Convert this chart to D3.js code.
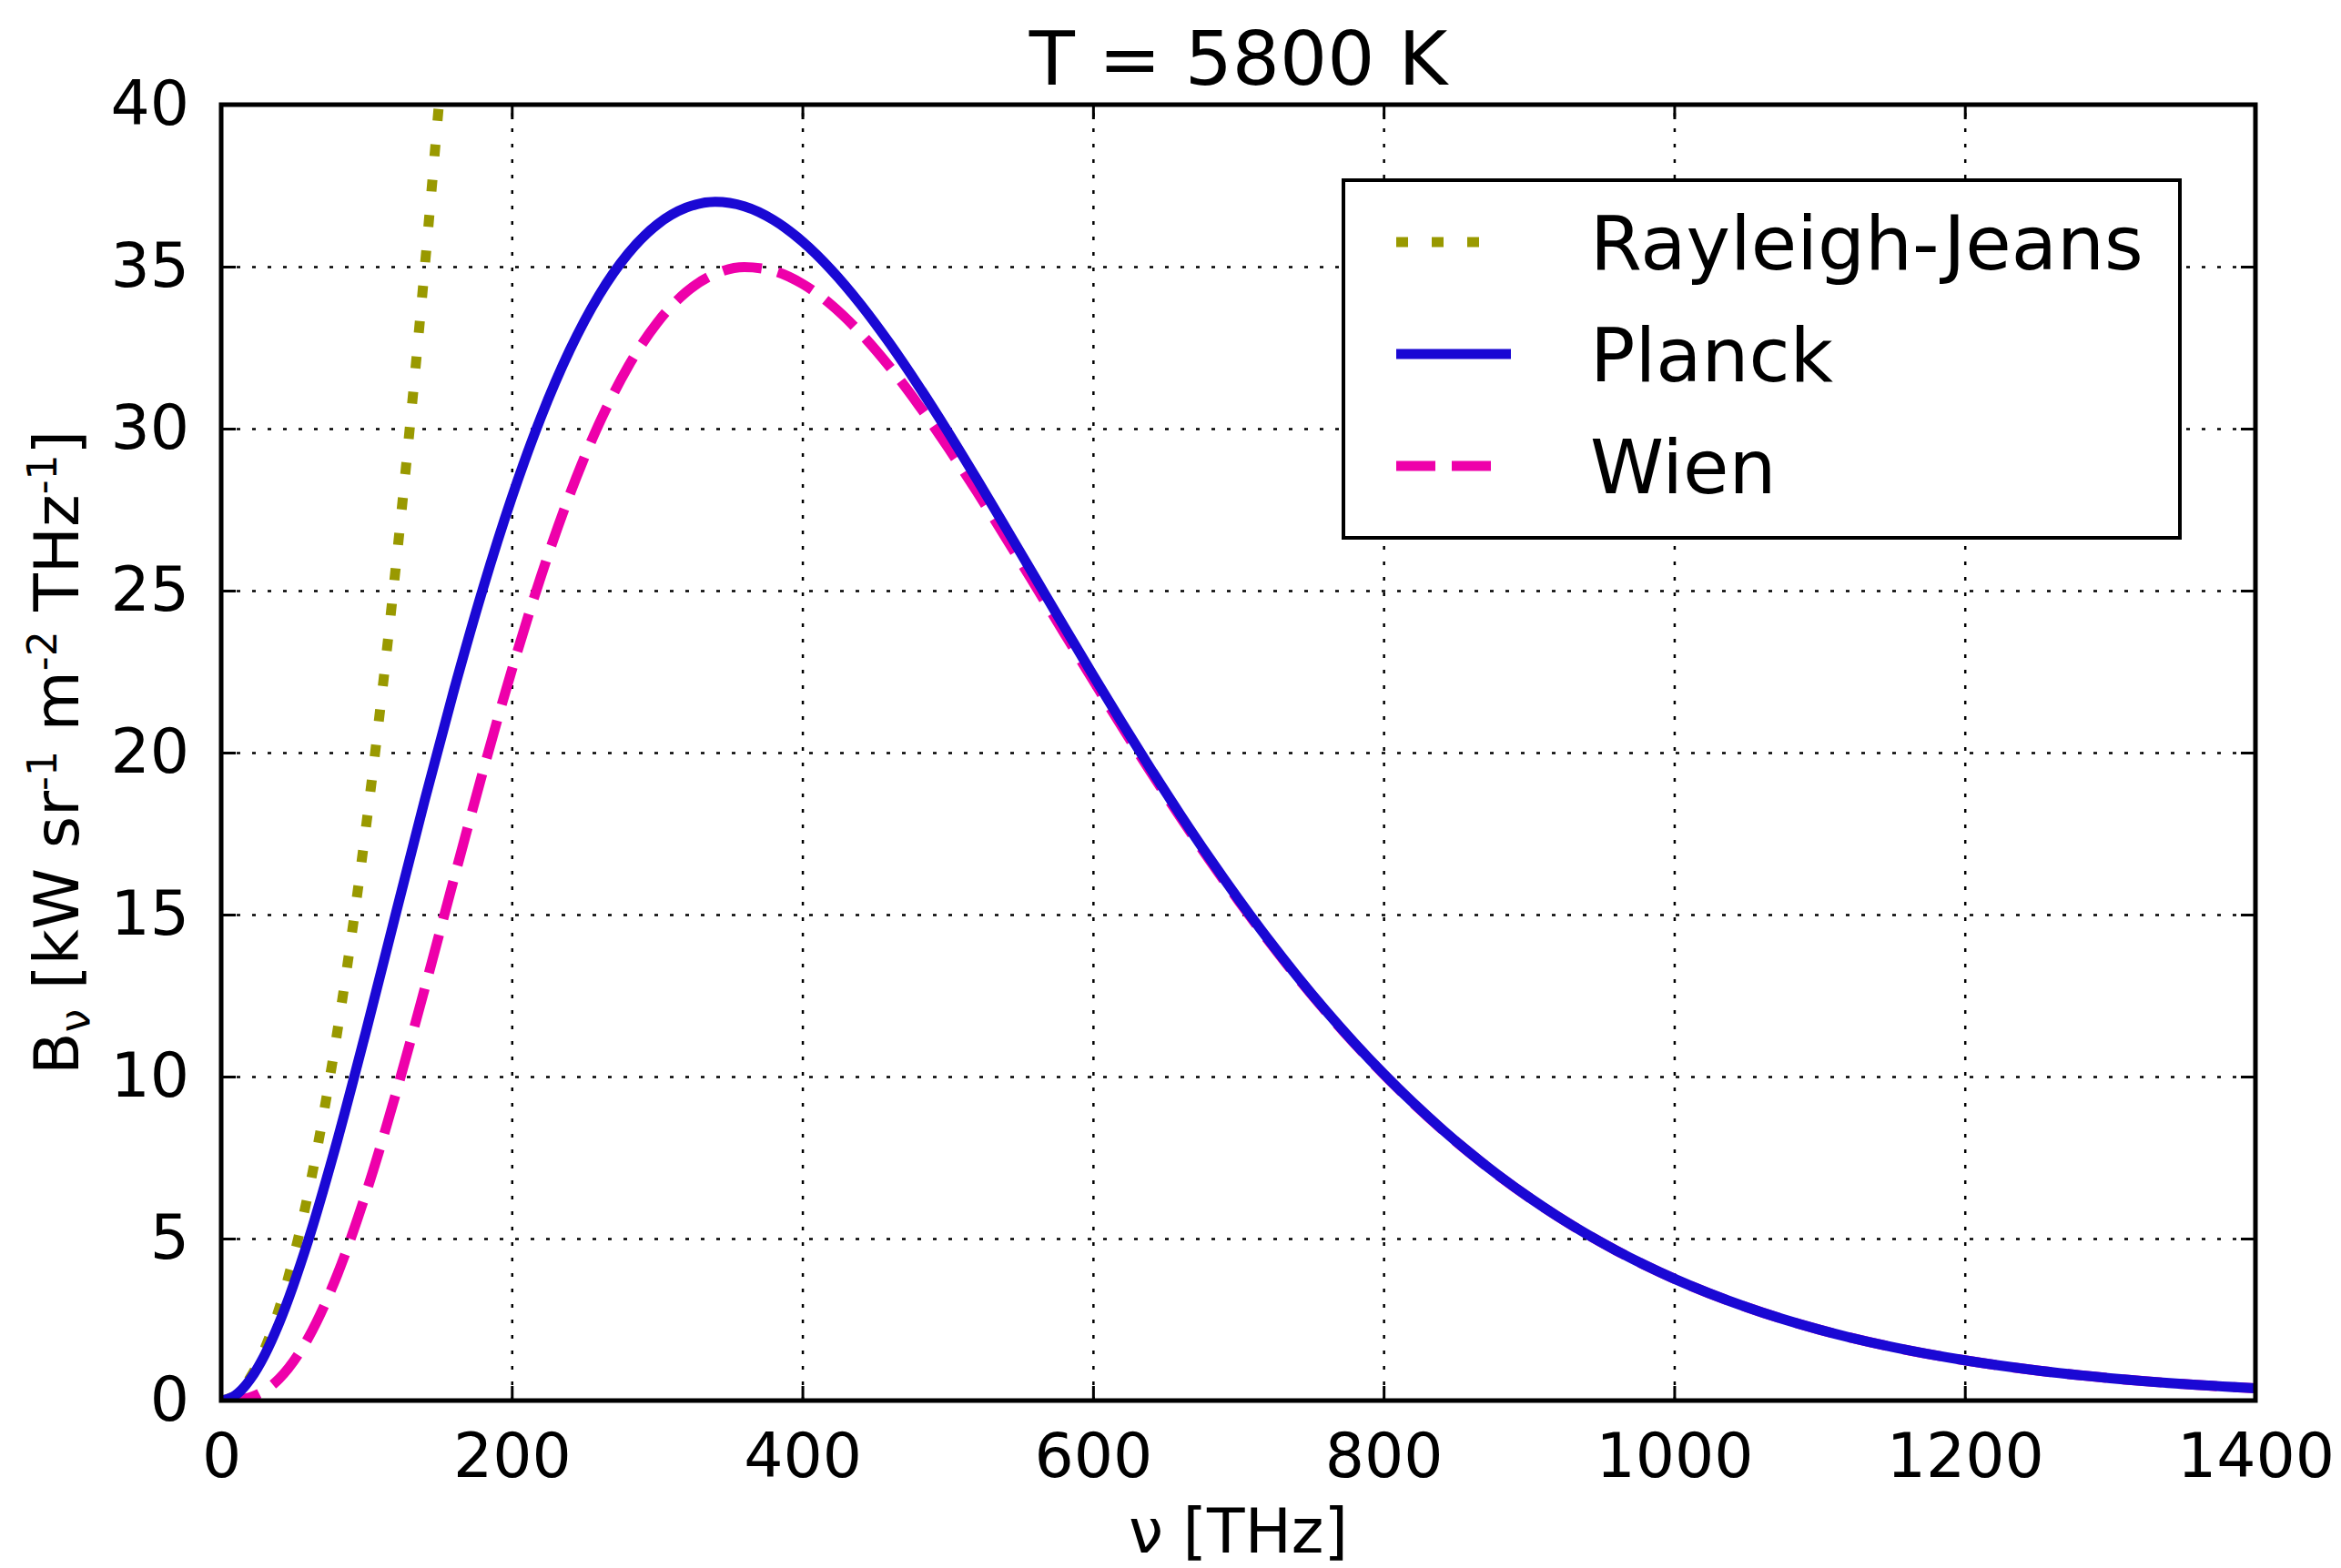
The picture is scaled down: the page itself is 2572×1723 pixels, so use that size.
<!DOCTYPE html>
<html lang="en">
<head>
  <meta charset="utf-8">
  <title>Blackbody spectrum T = 5800 K</title>
  <script src="https://d3js.org/d3.v7.min.js"></script>
  <style>
    body { margin: 0; background: #fff; }
    svg text { font-family: "DejaVu Sans", sans-serif; fill: #000; }
    .grid line { stroke: #000; stroke-width: 2.5; stroke-dasharray: 4 13; }
    .grid path { display: none; }
    .ticks path { display: none; }
    .ticks line { stroke: #000; stroke-width: 3; }
  </style>
</head>
<body>
<svg width="2572" height="1723"></svg>
<script>
// frequency [THz] and spectral radiance [kW sr^-1 m^-2 THz^-1]
var nu = [0, 10, 20, 30, 40, 60, 80, 100, 120, 140, 160, 180, 200, 220, 240, 260, 280, 300,
          320, 340, 360, 380, 400, 420, 440, 460, 480, 500, 520, 540, 560, 580, 600, 620, 640,
          660, 680, 700, 720, 740, 760, 780, 800, 820, 840, 860, 880, 900, 920, 940, 960, 980,
          1000, 1050, 1100, 1150, 1200, 1250, 1300, 1350, 1400];
var planck = [0, 0.171, 0.656, 1.413, 2.405, 4.954, 8.043, 11.453, 14.995, 18.518, 21.897, 25.039,
              27.871, 30.345, 32.431, 34.116, 35.401, 36.296, 36.819, 36.998, 36.861, 36.443, 35.777,
              34.897, 33.840, 32.636, 31.316, 29.911, 28.443, 26.938, 25.417, 23.896, 22.391, 20.915,
              19.479, 18.091, 16.757, 15.483, 14.272, 13.127, 12.047, 11.034, 10.087, 9.204, 8.383,
              7.623, 6.921, 6.274, 5.679, 5.133, 4.634, 4.177, 3.761, 2.879, 2.188, 1.653, 1.242,
              0.928, 0.690, 0.511, 0.377];
var wien = [0, 0.014, 0.100, 0.311, 0.678, 1.939, 3.894, 6.446, 9.440, 12.704, 16.071, 19.392,
            22.544, 25.429, 27.979, 30.147, 31.911, 33.263, 34.212, 34.777, 34.986, 34.872, 34.470,
            33.817, 32.952, 31.910, 30.726, 29.433, 28.058, 26.630, 25.170, 23.699, 22.235, 20.792,
            19.381, 18.014, 16.697, 15.436, 14.235, 13.098, 12.025, 11.017, 10.073, 9.193, 8.375,
            7.617, 6.916, 6.270, 5.676, 5.131, 4.632, 4.176, 3.760, 2.879, 2.188, 1.653, 1.242,
            0.928, 0.690, 0.511, 0.377];
var rjNu = [0, 10, 20, 30, 40, 50, 60, 70, 80, 90, 100, 110, 120, 130, 140, 150];
var rayleigh = [0, 0.178, 0.713, 1.604, 2.851, 4.455, 6.415, 8.732, 11.405, 14.434, 17.820,
                21.562, 25.660, 30.115, 34.926, 40.094];
var xTicks = [0, 200, 400, 600, 800, 1000, 1200, 1400];
var yTicks = [0, 5, 10, 15, 20, 25, 30, 35, 40];
var seriesNames = ["Rayleigh-Jeans", "Planck", "Wien"];

var svg = d3.select("svg"),
    margin = {top: 115, right: 94, bottom: 184, left: 243},
    width = +svg.attr("width") - margin.left - margin.right,
    height = +svg.attr("height") - margin.top - margin.bottom;

var x = d3.scaleLinear().domain([0, 1400]).range([0, width]);
var y = d3.scaleLinear().domain([0, 40]).range([height, 0]);

var g = svg.append("g")
    .attr("transform", "translate(" + margin.left + "," + margin.top + ")");

g.append("clipPath").attr("id", "plotclip")
  .append("rect").attr("width", width).attr("height", height);

// dotted grid
g.append("g").attr("class", "grid")
    .attr("transform", "translate(0," + height + ")")
    .call(d3.axisBottom(x).tickValues(xTicks).tickSize(-height).tickFormat(""));
g.append("g").attr("class", "grid")
    .call(d3.axisLeft(y).tickValues(yTicks).tickSize(-width).tickFormat(""));

// curves (legend order) ; legend handle length per series
var styles = [
  {name: seriesNames[0], xs: rjNu, ys: rayleigh, color: "#999900", dash: "13 26", handle: 94},
  {name: seriesNames[1], xs: nu, ys: planck, color: "#1a08d4", dash: null, handle: 126},
  {name: seriesNames[2], xs: nu, ys: wien, color: "#ee00aa", dash: "43 18", handle: 104}
];

var line = d3.line()
    .x(function(d) { return x(d[0]); })
    .y(function(d) { return y(d[1]); })
    .curve(d3.curveMonotoneX);

// Planck sits on top of Wien in the picture
var drawOrder = [0, 2, 1];
var curves = g.append("g").attr("clip-path", "url(#plotclip)");
drawOrder.forEach(function(k) {
  var s = styles[k];
  var pts = s.xs.map(function(v, i) { return [v, s.ys[i]]; });
  curves.append("path")
      .datum(pts)
      .attr("d", line)
      .attr("fill", "none")
      .attr("stroke", s.color)
      .attr("stroke-width", 11)
      .attr("stroke-dasharray", s.dash);
});

// ticks pointing inwards on all four sides
g.append("g").attr("class", "ticks")
    .attr("transform", "translate(0," + height + ")")
    .call(d3.axisBottom(x).tickValues(xTicks).tickSize(-16).tickPadding(36).tickFormat(d3.format("d")))
    .selectAll("text").style("font-size", "68px");
g.append("g").attr("class", "ticks")
    .call(d3.axisTop(x).tickValues(xTicks).tickSize(-16).tickFormat(""));
g.append("g").attr("class", "ticks")
    .call(d3.axisLeft(y).tickValues(yTicks).tickSize(-16).tickPadding(35).tickFormat(d3.format("d")))
    .selectAll("text").style("font-size", "68px").attr("dy", "0.32em");
g.append("g").attr("class", "ticks")
    .attr("transform", "translate(" + width + ",0)")
    .call(d3.axisRight(y).tickValues(yTicks).tickSize(-16).tickFormat(""));

g.selectAll(".ticks text").attr("fill", "#000").style("font-family", "DejaVu Sans");

// frame
g.append("rect")
    .attr("width", width).attr("height", height)
    .attr("fill", "none").attr("stroke", "#000").attr("stroke-width", 5);

// title and axis labels
svg.append("text")
    .attr("x", margin.left + width / 2).attr("y", 93)
    .attr("text-anchor", "middle")
    .style("font-size", "82px")
    .text("T = 5800 K");

svg.append("text")
    .attr("x", margin.left + width / 2).attr("y", 1706)
    .attr("text-anchor", "middle")
    .style("font-size", "68px")
    .text("\u03bd [THz]");

var ylab = svg.append("text")
    .attr("transform", "translate(86," + (margin.top + height / 2) + ") rotate(-90)")
    .attr("text-anchor", "middle")
    .style("font-size", "68px");
ylab.append("tspan").text("B");
ylab.append("tspan").attr("dy", 12).style("font-size", "46px").text("\u03bd");
ylab.append("tspan").attr("dy", -12).text(" [kW sr");
ylab.append("tspan").attr("dy", -24).style("font-size", "44px").text("-1");
ylab.append("tspan").attr("dy", 24).text(" m");
ylab.append("tspan").attr("dy", -24).style("font-size", "44px").text("-2");
ylab.append("tspan").attr("dy", 24).text(" THz");
ylab.append("tspan").attr("dy", -24).style("font-size", "44px").text("-1");
ylab.append("tspan").attr("dy", 24).text("]");

// legend
var legend = svg.append("g").attr("transform", "translate(1476,198)");
legend.append("rect")
    .attr("width", 919).attr("height", 393)
    .attr("fill", "#fff").attr("stroke", "#000").attr("stroke-width", 4);

var rowY = [68, 191, 314];
styles.forEach(function(s, i) {
  legend.append("line")
      .attr("x1", 58).attr("x2", 58 + s.handle)
      .attr("y1", rowY[i]).attr("y2", rowY[i])
      .attr("stroke", s.color)
      .attr("stroke-width", 11)
      .attr("stroke-dasharray", s.dash);
  legend.append("text")
      .attr("x", 271).attr("y", rowY[i] + 30)
      .style("font-size", "82px")
      .text(s.name);
});
</script>
</body>
</html>
